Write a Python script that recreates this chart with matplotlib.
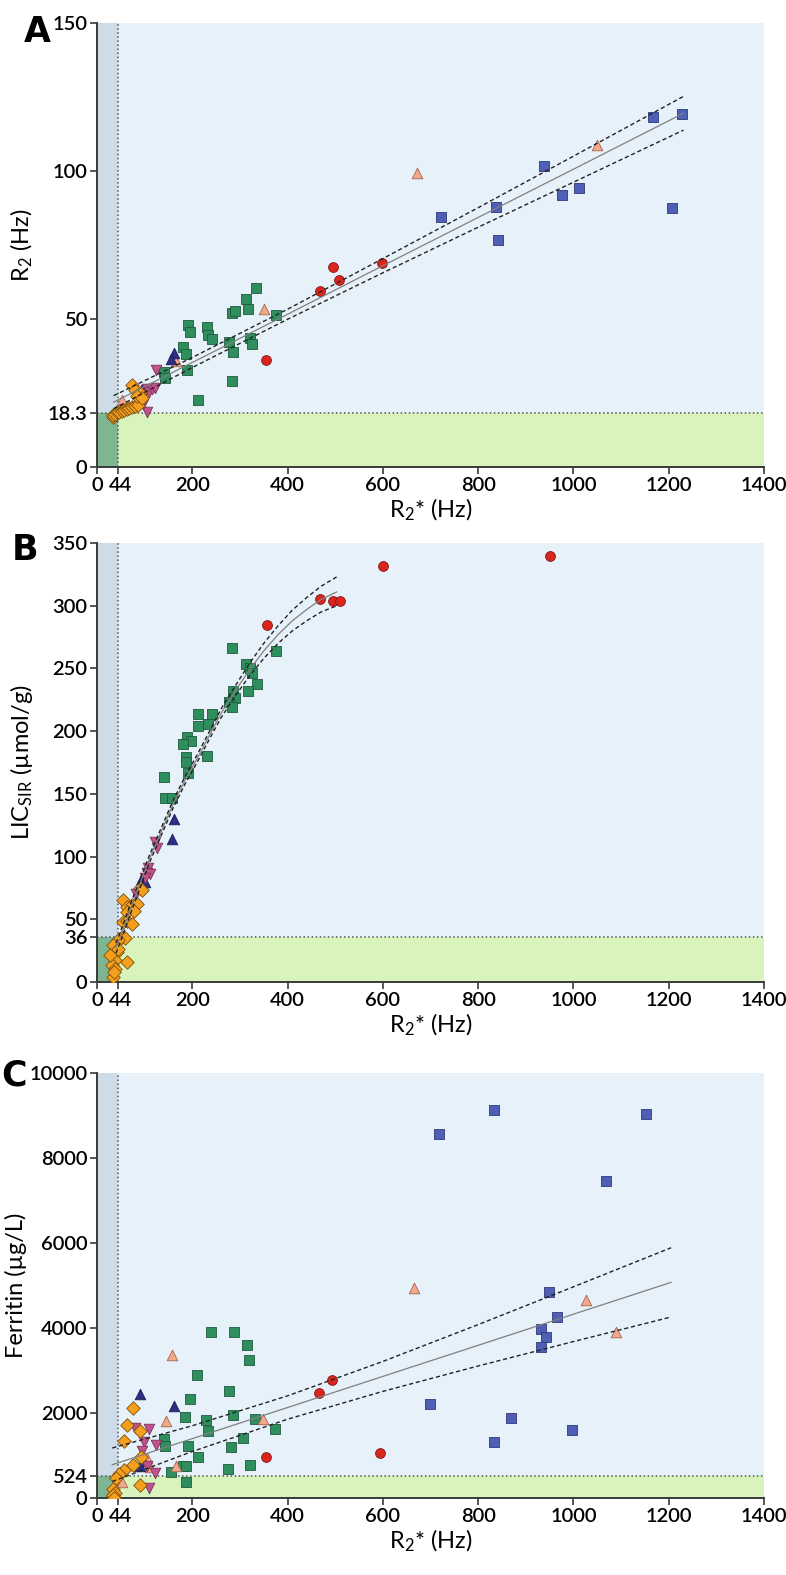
import numpy as np
import matplotlib.pyplot as plt
import matplotlib.transforms as mtransforms

plt.rcParams['font.family'] = ['Lato', 'DejaVu Sans']
plt.rcParams['font.weight'] = 'semibold'
plt.rcParams['mathtext.default'] = 'regular'

# ---------------- data ----------------
x_ticks = [0, 44, 200, 400, 600, 800, 1000, 1200, 1400]
x_cut = 44

# panel A: R2 vs R2*
a_orange_x = [33, 34, 37, 41, 46, 52, 57, 62, 68, 73, 80, 87, 74, 80, 90, 85, 94]
a_orange_y = [16.9, 17.6, 17.9, 18.5, 18.6, 18.9, 19.3, 19.7, 20.0, 20.3, 20.6, 20.9, 27.6, 26.0, 25.0, 24.0, 23.3]
a_magenta_x = [124, 104, 110, 115, 121, 106, 96]
a_magenta_y = [32.9, 26.5, 25.4, 26.5, 26.8, 18.6, 21.4]
a_navy_x = [162, 156, 94]
a_navy_y = [38.5, 36.4, 26.5]
a_salmon_x = [52, 166, 351, 671, 1050]
a_salmon_y = [22.8, 35.8, 53.5, 99.2, 108.8]
a_green_x = [333, 312, 316, 284, 290, 375, 190, 196, 230, 232, 242, 321, 325, 277, 286, 181, 186, 188, 141, 143, 283, 211]
a_green_y = [60.6, 56.6, 53.5, 52.0, 52.7, 51.3, 47.9, 45.6, 47.3, 44.5, 43.4, 43.7, 41.5, 42.3, 38.8, 40.6, 38.3, 32.7, 32.1, 29.9, 29.0, 22.5]
a_red_x = [468, 496, 509, 599, 355]
a_red_y = [59.4, 67.6, 63.3, 68.8, 36.1]
a_blue_x = [1228, 1166, 939, 1011, 976, 838, 723, 1207, 842]
a_blue_y = [119.1, 118.1, 101.8, 94.1, 91.9, 87.7, 84.3, 87.4, 76.6]
a_fit_x = [35, 200, 400, 600, 800, 1000, 1231]
a_fit_y = [21.9, 35.3, 51.6, 68.0, 84.3, 100.6, 119.5]
a_fit_hi = [24.1, 37.0, 53.3, 70.4, 87.6, 105.0, 125.2]
a_fit_lo = [19.7, 33.6, 49.9, 65.6, 81.0, 96.2, 113.8]

# panel B: LIC vs R2*
b_orange_x = [54, 62, 73, 83, 64, 78, 55, 62, 73, 90, 94, 52, 59, 45, 34, 41, 38, 31, 38, 34, 62, 27, 45, 36]
b_orange_y = [65.3, 60, 61.3, 62.6, 56, 57, 48, 49, 46.6, 74.6, 73.2, 36, 34.7, 33.3, 29.3, 24, 17.3, 13.3, 10.7, 4, 16, 21.3, 26.7, 8]
b_magenta_x = [122, 125, 108, 104, 111, 101, 81]
b_magenta_y = [112, 106.5, 91, 87, 86, 83, 70]
b_navy_x = [162, 157, 92, 101]
b_navy_y = [130, 114, 81, 80]
b_green_x = [283, 375, 312, 321, 326, 335, 316, 286, 290, 277, 284, 211, 242, 213, 234, 188, 197, 181, 230, 186, 186, 190, 141, 143, 157]
b_green_y = [266.3, 263.6, 253.8, 250.3, 246.3, 237.5, 232.4, 232.4, 226.3, 223.6, 219.2, 213.6, 213.6, 204.5, 205.8,
             195.2, 192.5, 189.6, 180.5, 179.7, 175.2, 166.4, 163.2, 146.5, 146.5]
b_red_x = [356, 469, 496, 510, 600, 950]
b_red_y = [284.3, 305.7, 303.5, 303.5, 331.5, 340]
b_fit_x = [40, 55, 70, 90, 110, 135, 160, 185, 210, 235, 260, 290, 320, 350, 380, 410, 440, 470, 503]
b_fit_y = [27, 42, 58, 78, 98, 120, 142, 161, 178, 196, 214, 232, 249, 264, 277, 288, 297, 305, 311]
b_fit_hi = [31, 46, 62, 81.5, 101, 123, 145, 164, 181, 199, 217.5, 236, 254, 270, 284, 296.5, 306.5, 315.5, 323]
b_fit_lo = [23, 38, 54, 74.5, 95, 117, 139, 158, 175, 193, 210.5, 228, 244, 258, 270, 280, 288, 295, 300]

# panel C: ferritin vs R2*
c_orange_x = [75, 62, 90, 57, 92, 76, 57, 47, 39, 90, 34, 37, 34, 33, 35]
c_orange_y = [2128, 1722, 1581, 1330, 954, 766, 665, 571, 470, 312, 211, 117, 38, 80, 0]
c_magenta_x = [80, 110, 99, 123, 94, 104, 122, 110]
c_magenta_y = [1644, 1628, 1306, 1252, 1095, 742, 587, 235]
c_navy_x = [91, 162, 90, 97]
c_navy_y = [2450, 2168, 742, 880]
c_salmon_x = [666, 1027, 1089, 158, 144, 349, 166, 106, 111, 53]
c_salmon_y = [4933, 4658, 3914, 3366, 1816, 1855, 759, 940, 728, 376]
c_green_x = [240, 288, 314, 320, 209, 277, 195, 185, 228, 286, 332, 232, 373, 140, 142, 307, 190, 282, 211, 322, 181, 186, 276, 155, 186]
c_green_y = [3914, 3906, 3608, 3256, 2904, 2521, 2325, 1917, 1839, 1957, 1863, 1581, 1628, 1386, 1229, 1416, 1212, 1198,
             970, 782, 742, 742, 681, 611, 367]
c_red_x = [493, 465, 354, 594]
c_red_y = [2779, 2466, 954, 1057]
c_blue_x = [833, 717, 1153, 1069, 948, 966, 931, 943, 932, 699, 869, 996, 833]
c_blue_y = [9122, 8574, 9028, 7454, 4839, 4252, 3970, 3796, 3561, 2208, 1893, 1604, 1306]
c_fit_x = [32, 200, 400, 600, 800, 1000, 1205]
c_fit_y = [782, 1397, 2129, 2861, 3593, 4325, 5074]
c_fit_hi = [1176, 1700, 2404, 3213, 4080, 4969, 5889]
c_fit_lo = [388, 1094, 1854, 2509, 3106, 3681, 4259]

# ---------------- styles ----------------
bg_main = '#e6f1fa'
bg_strip = '#cedce7'
bg_corner = '#7fb692'
bg_low = '#d9f3bd'
styles = {
    'orange': dict(marker='D', c='#f5a01c', edgecolors='#7a4e10', s=48),
    'magenta': dict(marker='v', c='#c2528c', edgecolors='#7a3058', s=58),
    'navy': dict(marker='^', c='#2d2f87', edgecolors='#1c1c55', s=58),
    'salmon': dict(marker='^', c='#f4a88a', edgecolors='#a4624e', s=58),
    'green': dict(marker='s', c='#2f8e5e', edgecolors='#1f5a3c', s=55),
    'red': dict(marker='o', c='#d8261f', edgecolors='#8a1510', s=50),
    'blue': dict(marker='s', c='#4f5fb5', edgecolors='#2e3a78', s=55),
}


def setup(ax, ymax, ythr, yticks, ylabel, letter, lx, ly, labx):
    ax.set_xlim(0, 1400)
    ax.set_ylim(0, ymax)
    ax.set_facecolor(bg_main)
    ax.axvspan(0, x_cut, color=bg_strip, lw=0, zorder=0)
    ax.axhspan(0, ythr, xmin=x_cut / 1400, color=bg_low, lw=0, zorder=0)
    ax.fill_between([0, x_cut], 0, ythr, color=bg_corner, lw=0, zorder=0.5)
    ax.axvline(x_cut, color='#555555', ls=':', lw=1.1, zorder=1)
    ax.axhline(ythr, color='#555555', ls=':', lw=1.1, zorder=1)
    for s in ['top', 'right']:
        ax.spines[s].set_visible(False)
    for s in ['left', 'bottom']:
        ax.spines[s].set_color('#3a3a3a')
        ax.spines[s].set_linewidth(1.4)
    ax.set_xticks(x_ticks)
    ax.set_xticklabels([str(t) for t in x_ticks])
    ax.set_yticks(yticks)
    ax.set_yticklabels([str(t) for t in yticks])
    ax.tick_params(direction='out', length=5, width=1.2, color='#3a3a3a', labelsize=14.5, pad=2)
    # nudge the "44" label a little right so it does not touch "0"
    lab44 = ax.get_xticklabels()[1]
    lab44.set_transform(lab44.get_transform() + mtransforms.ScaledTranslation(3 / 100, 0, ax.figure.dpi_scale_trans))
    ax.set_xlabel('R$_2$* (Hz)', fontsize=17, labelpad=2)
    ax.set_ylabel(ylabel, fontsize=17)
    ax.yaxis.set_label_coords(labx, 0.5)
    ax.text(lx, ly, letter, transform=ax.transAxes, fontsize=25, fontweight='bold',
            family='DejaVu Sans', ha='center', va='center')


def fit(ax, fx, fy, lo, hi):
    ax.plot(fx, fy, color='#808080', lw=0.9, zorder=5)
    ax.plot(fx, hi, color='#222222', lw=1.0, ls=(0, (3, 2)), zorder=5)
    ax.plot(fx, lo, color='#222222', lw=1.0, ls=(0, (3, 2)), zorder=5)


def pts(ax, x, y, kind):
    ax.scatter(x, y, linewidths=0.6, zorder=3, **styles[kind])


fig = plt.figure(figsize=(7.86, 15.75), dpi=100)

ax1 = fig.add_axes([0.1234, 0.7035, 0.8486, 0.2819])
setup(ax1, 150, 18.3, [0, 18.3, 50, 100, 150], 'R$_2$ (Hz)', 'A', -0.09, 0.98, -0.093)
pts(ax1, a_green_x, a_green_y, 'green')
pts(ax1, a_blue_x, a_blue_y, 'blue')
pts(ax1, a_red_x, a_red_y, 'red')
pts(ax1, a_salmon_x, a_salmon_y, 'salmon')
pts(ax1, a_navy_x, a_navy_y, 'navy')
pts(ax1, a_magenta_x, a_magenta_y, 'magenta')
pts(ax1, a_orange_x, a_orange_y, 'orange')
fit(ax1, a_fit_x, a_fit_y, a_fit_lo, a_fit_hi)

ax2 = fig.add_axes([0.1234, 0.3765, 0.8486, 0.2787])
setup(ax2, 350, 36, [0, 36, 50, 100, 150, 200, 250, 300, 350], 'LIC$_{SIR}$ (µmol/g)', 'B', -0.108, 0.985, -0.093)
pts(ax2, b_green_x, b_green_y, 'green')
pts(ax2, b_red_x, b_red_y, 'red')
pts(ax2, b_navy_x, b_navy_y, 'navy')
pts(ax2, b_magenta_x, b_magenta_y, 'magenta')
pts(ax2, b_orange_x, b_orange_y, 'orange')
fit(ax2, b_fit_x, b_fit_y, b_fit_lo, b_fit_hi)

ax3 = fig.add_axes([0.1234, 0.0489, 0.8486, 0.2698])
setup(ax3, 10000, 524, [0, 524, 2000, 4000, 6000, 8000, 10000], 'Ferritin (µg/L)', 'C', -0.125, 0.995, -0.105)
pts(ax3, c_green_x, c_green_y, 'green')
pts(ax3, c_blue_x, c_blue_y, 'blue')
pts(ax3, c_red_x, c_red_y, 'red')
pts(ax3, c_salmon_x, c_salmon_y, 'salmon')
pts(ax3, c_navy_x, c_navy_y, 'navy')
pts(ax3, c_magenta_x, c_magenta_y, 'magenta')
pts(ax3, c_orange_x, c_orange_y, 'orange')
fit(ax3, c_fit_x, c_fit_y, c_fit_lo, c_fit_hi)

fig.savefig('out.png', dpi=100)
